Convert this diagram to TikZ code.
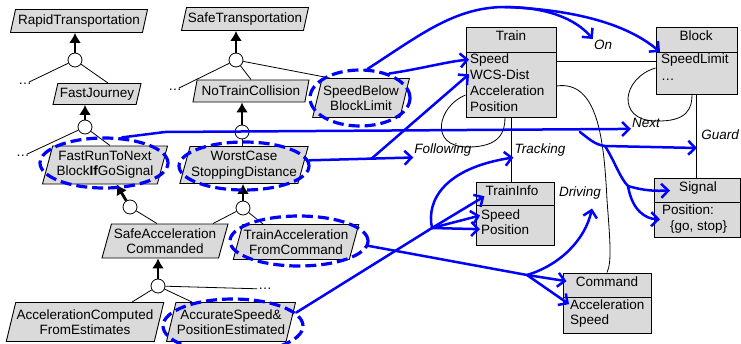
\documentclass[tikz,border=0pt]{standalone}
\usepackage{fontspec}
\setmainfont{Liberation Sans}
\usetikzlibrary{shapes.geometric,arrows.meta,calc}
\definecolor{boxgray}{RGB}{218,218,218}
\definecolor{penblue}{RGB}{0,0,255}
\newcommand\dfont{\fontsize{13.5}{15.5}\selectfont}
\tikzset{
  goal/.style={trapezium, trapezium left angle=71, trapezium right angle=109, trapezium stretches body, draw=black, line width=0.9pt, fill=boxgray, align=center, inner sep=1pt, font=\dfont},
  andc/.style={circle, draw=black, fill=white, line width=0.8pt, minimum size=14pt, inner sep=0pt},
  refarr/.style={line width=2.8pt, -{Latex[length=10pt,width=12pt]}},
  tline/.style={line width=0.8pt},
  dotsn/.style={font=\dfont, inner sep=1pt},
  cls/.style={rectangle, draw=black, fill=boxgray, line width=1pt, inner sep=0pt},
  attr/.style={anchor=base west, inner sep=1pt, font=\dfont},
  hdr/.style={anchor=base, inner sep=1pt, font=\dfont},
  lab/.style={inner sep=1pt, font=\dfont\itshape},
  pen/.style={draw=penblue, line width=2.5pt, line cap=round, line join=round},
  penarr/.style={pen, -{Straight Barb[length=7pt,width=14pt]}},
  penell/.style={ellipse, draw=penblue, line width=3.2pt, dash pattern=on 11pt off 5pt, inner sep=0pt},
}
\begin{document}
\begin{tikzpicture}[x=1pt,y=-1pt]
\useasboundingbox (0,0) rectangle (741,343);

\coordinate (guardPt) at (697,148);
% ---------- classes
\node[cls, minimum width=90pt, minimum height=90pt] (train) at (511,72) {};
\node[cls, minimum width=81pt, minimum height=67pt] (block) at (696.5,60.5) {};
\node[cls, minimum width=78pt, minimum height=63pt] (tinfo) at (515,213.5) {};
\node[cls, minimum width=86pt, minimum height=59pt] (signal) at (697,207.5) {};
\node[cls, minimum width=88pt, minimum height=60pt] (cmd) at (607,303) {};

\draw[tline] (train.west |- 0,52) -- (train.east |- 0,52);
\draw[tline] (block.west |- 0,52) -- (block.east |- 0,52);
\draw[tline] (tinfo.west |- 0,205) -- (tinfo.east |- 0,205);
\draw[tline] (signal.west |- 0,202) -- (signal.east |- 0,202);
\draw[tline] (cmd.west |- 0,297) -- (cmd.east |- 0,297);

\node[hdr] (trainH) at (511,40) {Train};
\node[attr] (tSpeed) at (469,63) {Speed};
\node[attr] (tWCS) at (469,79) {WCS-Dist};
\node[attr] (tAcc) at (469,95) {Acceleration};
\node[attr] (tPos) at (469,111) {Position};

\node[hdr] (blockH) at (696,40) {Block};
\node[attr] (bSL) at (660,63) {SpeedLimit};
\node[attr] (bDots) at (660,80) {\dots};

\node[hdr] (iH) at (512,195) {TrainInfo};
\node[attr] (iSpeed) at (480,219) {Speed};
\node[attr] (iPos) at (480,234) {Position};

\node[hdr] (sH) at (698,191) {Signal};
\node[attr] (sPos) at (661,214) {Position:};
\node[attr] (sVal) at (669,230) {\{go, stop\}};

\node[hdr] (cH) at (607,286) {Command};
\node[attr] (cAcc) at (569,309) {Acceleration};
\node[attr] (cSpd) at (569,324) {Speed};

% associations
\draw[tline] (train.east |- 0,61) -- (block.west |- 0,61);
\draw[tline] (train.south) -- (train.south |- tinfo.north);
\draw[tline] (block.south) -- (block.south |- signal.north);
\draw[tline] (block.west |- 0,68) .. controls (622,78) and (616,120) .. (655,121) .. controls (688,122) and (692,108) .. (block.south -| 692,0);
\draw[tline] (train.west |- 0,95) .. controls (438,106) and (428,147) .. (468,147) .. controls (500,147) and (505,132) .. (train.south -| 505,0);
\draw[tline] (train.east |- 0,86) .. controls (598,80) and (604,140) .. (607,200) .. controls (610,240) and (612,262) .. (cmd.north);

\node[lab] (lOn) at (603,45) {On};
\node[lab] (lNext) at (646,123) {Next};
\node[lab] (lGuard) at (720,135) {Guard};
\node[lab] (lFol) at (443,150) {Following};
\node[lab] (lTrk) at (540,150) {Tracking};
\node[lab] (lDrv) at (580,193) {Driving};

% ---------- goals
\node[goal, minimum width=137pt, minimum height=23pt] (rt) at (79,21) {RapidTransportation};
\node[goal, minimum width=127pt, minimum height=23pt] (st) at (245,19) {SafeTransportation};
\node[goal, minimum width=88pt, minimum height=21pt] (fj) at (97,94) {FastJourney};
\node[goal, minimum width=116pt, minimum height=22pt] (ntc) at (251,91) {NoTrainCollision};
\node[goal, minimum width=93pt, minimum height=39pt] (sbbl) at (361,98) {SpeedBelow\\BlockLimit};
\node[goal, minimum width=125pt, minimum height=38pt] (frtn) at (105,165) {FastRunToNext\\Block\textbf{If}GoSignal};
\node[goal, minimum width=122pt, minimum height=37pt] (wcsd) at (244,165) {WorstCase\\StoppingDistance};
\node[goal, minimum width=126pt, minimum height=34pt] (sac) at (165,241) {SafeAcceleration\\Commanded};
\node[goal, minimum width=123pt, minimum height=35pt] (tafc) at (296,242) {TrainAcceleration\\FromCommand};
\node[goal, minimum width=156pt, minimum height=39pt] (acfe) at (85,322) {AccelerationComputed\\FromEstimates};
\node[goal, minimum width=129pt, minimum height=39pt] (aspe) at (231,322) {AccurateSpeed\&\\PositionEstimated};

\node[dotsn] (d1) at (25,84) {\dots};
\node[dotsn] (d2) at (175,90) {\dots};
\node[dotsn] (d3) at (23,156) {\dots};
\node[dotsn] (d4) at (265,289) {\dots};

% ---------- refinements
\node[andc] (c1) at (75,60) {};
\node[andc] (c2) at (236,60) {};
\node[andc] (c3) at (85,127) {};
\node[andc] (c4) at (242,132) {};
\node[andc] (c5) at (130,207) {};
\node[andc] (c6) at (243,208) {};
\node[andc] (c7) at (158,286) {};

\draw[refarr] (c1) -- (c1 |- rt.south);
\draw[tline] (c1) -- (d1);
\draw[tline] (c1) -- ($(fj.north)+(11,0)$);

\draw[refarr] (c2) -- (c2 |- st.south);
\draw[tline] (c2) -- (d2);
\draw[tline] (c2) -- (ntc.north);
\draw[tline] (c2) -- ($(sbbl.north)+(-31,0)$);

\draw[refarr] (c3) -- (c3 |- fj.south);
\draw[tline] (c3) -- (d3);
\draw[tline] (c3) -- ($(frtn.north)+(5,0)$);

\draw[refarr] (c4) -- (c4 |- ntc.south);
\draw[tline] (c4) -- (c4 |- wcsd.north);

\draw[refarr] (c5) -- (frtn);
\draw[tline] (c5) -- ($(sac.north)+(-8,0)$);

\draw[refarr] (c6) -- (c6 |- wcsd.south);
\draw[tline] (c6) -- ($(sac.north)+(48,0)$);
\draw[tline] (c6) -- ($(tafc.north)+(-33,0)$);

\draw[refarr] (c7) -- (c7 |- sac.south);
\draw[tline] (c7) -- ($(acfe.north)+(47,0)$);
\draw[tline] (c7) -- ($(aspe.north)+(-39,0)$);
\draw[tline] (c7) -- (d4);

% ---------- blue dashed ellipses
\node[penell, minimum width=100pt, minimum height=56pt] (eSB) at (360,98) {};
\node[penell, minimum width=128pt, minimum height=50pt] (eFR) at (104,163) {};
\node[penell, minimum width=130pt, minimum height=48pt] (eWC) at (244,166) {};
\node[penell, minimum width=138pt, minimum height=50pt] (eTA) at (299,241) {};
\node[penell, minimum width=140pt, minimum height=54pt] (eAS) at (233,326) {};

% ---------- blue pen arrows
\coordinate (bA) at (505,7);
\draw[pen] (eSB.75) .. controls (420,35) and (455,7) .. (bA);
\draw[penarr] (bA) .. controls (545,7) and (575,18) .. (lOn.north west);
\draw[penarr] (bA) .. controls (585,10) and (632,28) .. (bSL.north west);

\draw[penarr] (eSB.40) .. controls (425,68) and (445,62) .. (tSpeed.west);

\draw[penarr] (eWC.5) -- coordinate[pos=0.6] (bW) (lFol.south west);
\draw[penarr] (bW) -- (tWCS.west);

\coordinate (bF) at (165,132);
\coordinate (bN) at (580,132);
\coordinate (bG) at (605,146);
\coordinate (bS) at (628,186);
\draw[penarr] (eFR.55) -- (bF) -- (lNext.south west);
\draw[pen] (bN) .. controls (588,138) and (595,145) .. (bG);
\draw[penarr] (bG) -- (guardPt);
\draw[pen] (bG) .. controls (614,160) and (620,178) .. (bS);
\draw[penarr] (bS) .. controls (645,191) and (655,191) .. ($(sH.west)+(-8,3)$);
\draw[penarr] (bS) .. controls (632,210) and (645,219) .. ($(sPos.south west)+(-1,4)$);

\coordinate (bC) at (527,275);
\draw[pen] (eTA.-4) -- (bC);
\draw[penarr] (bC) -- ($(cmd.west |- cH.west)+(4,0)$);
\draw[penarr] (bC) -- (cAcc.west);
\draw[penarr] (bC) .. controls (560,265) and (585,240) .. ($(lDrv.south)+(12,8)$);

\coordinate (bT) at (432,228);
\draw[pen] (eAS.12) -- (bT);
\draw[penarr] (bT) -- (iH.south west);
\draw[penarr] (bT) -- (iSpeed.west);
\draw[penarr] (bT) -- (iPos.west);
\draw[penarr] (bT) .. controls (426,200) and (445,168) .. (lTrk.south west);
\end{tikzpicture}
\end{document}
